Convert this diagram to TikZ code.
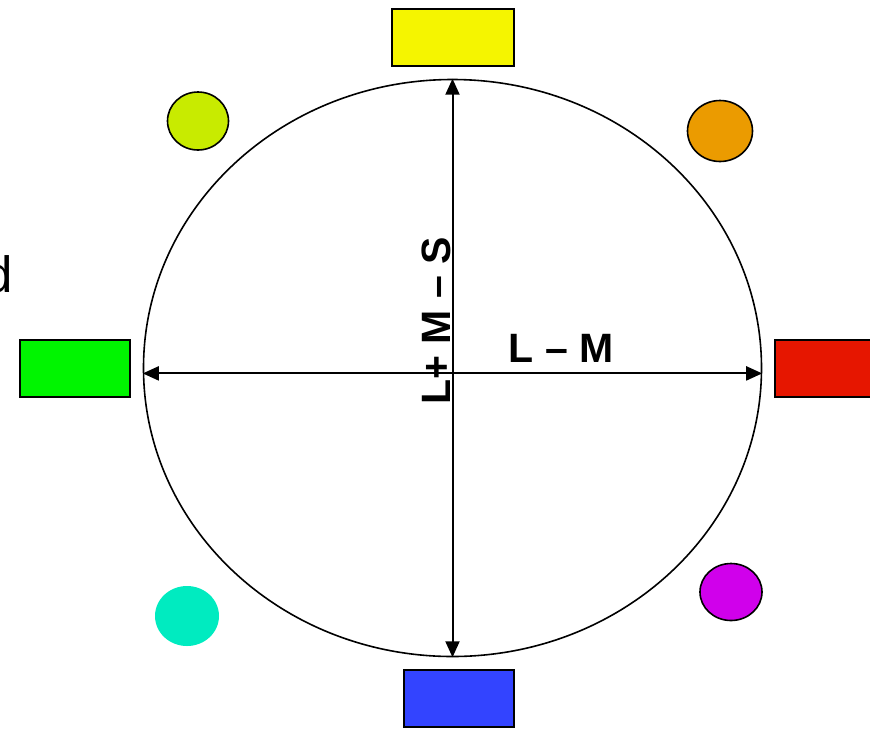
\documentclass[tikz,border=0pt]{standalone}
\usepackage{fontspec}
\setmainfont{Liberation Sans}
\usetikzlibrary{arrows.meta, positioning, shapes.geometric}

\definecolor{hueyel}{RGB}{245,245,0}
\definecolor{huegrn}{RGB}{0,245,0}
\definecolor{huered}{RGB}{230,22,0}
\definecolor{hueblu}{RGB}{51,68,255}
\definecolor{huelime}{RGB}{200,235,0}
\definecolor{hueorg}{RGB}{235,155,0}
\definecolor{huecyn}{RGB}{0,235,192}
\definecolor{huemag}{RGB}{208,0,235}

\begin{document}
\begin{tikzpicture}[
    x=1pt, y=-1pt,
    swatch/.style={rectangle, draw, line width=2pt, minimum width=110pt, minimum height=57pt, inner sep=0pt},
    blob/.style={ellipse, draw, line width=1.6pt, inner sep=0pt},
    arr/.style={line width=2pt, {Triangle[length=16pt,width=14pt]}-{Triangle[length=16pt,width=14pt]}},
    lab/.style={font=\fontsize{41}{41}\selectfont\bfseries, inner sep=0pt}]
  \useasboundingbox (0,0) rectangle (870,729);
  \node[ellipse, draw, line width=1.6pt, minimum width=618pt, minimum height=577pt, inner sep=0pt] (wheel) at (452.5,368) {};
  % primaries
  \node[swatch, fill=hueyel, minimum width=122pt] (yel) at (453,37.5) {};
  \node[swatch, fill=huegrn] (grn) at (75,368.5) {};
  \node[swatch, fill=huered] (red) at (830,368.5) {};
  \node[swatch, fill=hueblu] (blu) at (459,698.5) {};
  % in-between hues
  \node[blob, fill=huelime, minimum width=61pt, minimum height=58pt] (lime) at (198,121) {};
  \node[blob, fill=hueorg, minimum width=65pt, minimum height=61pt] (org) at (720,131) {};
  \node[blob, fill=huecyn, draw=none, minimum width=64pt, minimum height=60pt] (cyn) at (187,616) {};
  \node[blob, fill=huemag, minimum width=62pt, minimum height=57pt] (mag) at (731,592) {};
  % axes
  \draw[arr] (wheel.north) -- (wheel.south);
  \draw[arr] (wheel.181) -- (wheel.-1);
  \node[lab, anchor=base] (rg) at (561,362) {L – M};
  \node[lab, anchor=base, rotate=90] (by) at (450,321) {L+ M – S};
  \node[anchor=base east, inner sep=0pt, font=\fontsize{51}{51}\selectfont] (cut) at (13,292) {d};
\end{tikzpicture}
\end{document}
